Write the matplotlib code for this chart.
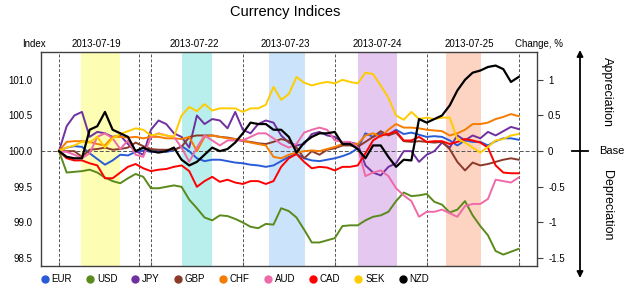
import matplotlib
matplotlib.use("Agg")
import matplotlib.pyplot as plt
import matplotlib.transforms as mtransforms
from matplotlib.lines import Line2D
import numpy as np

plt.rcParams['font.family'] = ['Liberation Sans', 'DejaVu Sans']

# hours since 2013-07-19 00:00 (weekend squeezed out), every 2 hours
hours = np.arange(0, 121, 2)

# percent change vs base
eur = [0, 0.05, 0.07, 0.06, -0.03, -0.11, -0.19, -0.13, -0.05, -0.06, -0.01, 0.01, -0.01, 0.01, -0.01, 0.01,
       0.07, 0.0, -0.1, -0.14, -0.12, -0.12, -0.14, -0.16, -0.17, -0.19, -0.2, -0.22, -0.2, -0.14, -0.08, -0.04,
       -0.1, -0.13, -0.14, -0.12, -0.1, -0.07, -0.03, 0.04, 0.25, 0.2, 0.25, 0.23, 0.3, 0.24, 0.26, 0.23,
       0.2, 0.21, 0.2, 0.15, 0.08, 0.15, 0.13, 0.13, 0.08, 0.14, 0.18, 0.18, 0.16]
usd = [0, -0.3, -0.29, -0.28, -0.26, -0.3, -0.37, -0.42, -0.45, -0.38, -0.32, -0.36, -0.52, -0.52, -0.5, -0.48,
       -0.5, -0.68, -0.8, -0.93, -0.97, -0.9, -0.91, -0.95, -1.0, -1.06, -1.08, -1.02, -1.03, -0.8, -0.84, -0.93,
       -1.1, -1.28, -1.28, -1.25, -1.22, -1.05, -1.04, -1.04, -0.97, -0.92, -0.9, -0.85, -0.7, -0.58, -0.63, -0.62,
       -0.6, -0.71, -0.75, -0.86, -0.82, -0.7, -0.9, -1.05, -1.18, -1.4, -1.45, -1.41, -1.37]
jpy = [0, 0.35, 0.5, 0.55, 0.2, 0.27, 0.25, 0.2, 0.22, 0.1, 0.0, -0.05, 0.3, 0.43, 0.38, 0.25,
       0.2, 0.05, 0.5, 0.38, 0.45, 0.43, 0.32, 0.55, 0.3, 0.25, 0.38, 0.43, 0.4, 0.22, 0.12, 0.08,
       0.1, 0.24, 0.27, 0.22, 0.2, 0.12, 0.12, 0.1, -0.2, -0.3, -0.34, -0.22, -0.17, 0.0, 0.0, -0.15,
       -0.05, 0.0, 0.12, 0.05, 0.22, 0.15, 0.22, 0.18, 0.27, 0.22, 0.28, 0.34, 0.31]
gbp = [0, 0.0, 0.0, -0.08, 0.02, 0.03, 0.05, 0.02, 0.03, 0.05, 0.12, 0.07, 0.03, 0.02, 0.02, 0.02,
       0.06, 0.2, 0.22, 0.22, 0.22, 0.2, 0.19, 0.17, 0.14, 0.13, 0.11, 0.1, 0.13, 0.17, 0.14, 0.05,
       -0.1, 0.0, -0.05, 0.02, 0.04, 0.08, 0.08, 0.06, 0.13, 0.2, 0.28, 0.22, 0.26, 0.14, 0.13, 0.14,
       0.13, 0.12, 0.13, 0.03, -0.15, -0.27, -0.16, -0.2, -0.18, -0.15, -0.12, -0.1, -0.12]
chf = [0, 0.13, 0.14, 0.14, 0.13, 0.1, 0.08, 0.2, 0.2, 0.19, 0.2, 0.18, 0.2, 0.2, 0.18, 0.18,
       0.17, 0.2, 0.0, 0.2, 0.22, 0.2, 0.18, 0.17, 0.15, 0.12, 0.1, 0.08, -0.08, -0.1, -0.05, -0.02,
       0.0, 0.01, 0.0, 0.03, 0.06, 0.1, 0.1, 0.1, 0.22, 0.25, 0.2, 0.3, 0.38, 0.33, 0.33, 0.32,
       0.3, 0.29, 0.28, 0.22, 0.25, 0.3, 0.38, 0.38, 0.4, 0.45, 0.48, 0.52, 0.49]
aud = [0, -0.01, -0.05, -0.1, -0.03, 0.2, 0.25, 0.18, 0.03, 0.15, -0.05, -0.08, 0.2, 0.25, 0.22, 0.2,
       0.05, -0.15, 0.05, 0.22, 0.15, 0.08, 0.15, 0.15, 0.15, 0.2, 0.25, 0.25, 0.18, 0.1, 0.05, 0.1,
       0.26, 0.3, 0.33, 0.3, 0.15, 0.13, 0.13, 0.05, -0.35, -0.3, -0.27, -0.35, -0.52, -0.62, -0.7, -0.92,
       -0.85, -0.85, -0.82, -0.87, -0.92, -0.77, -0.74, -0.74, -0.67, -0.4, -0.42, -0.44, -0.37]
cad = [0, -0.1, -0.13, -0.13, -0.17, -0.2, -0.38, -0.38, -0.3, -0.22, -0.18, -0.24, -0.28, -0.26, -0.25, -0.22,
       -0.2, -0.28, -0.5, -0.42, -0.36, -0.43, -0.4, -0.44, -0.46, -0.42, -0.42, -0.46, -0.42, -0.22, -0.1, -0.04,
       -0.15, -0.24, -0.22, -0.23, -0.27, -0.22, -0.22, -0.2, -0.03, 0.15, 0.22, 0.24, 0.28, 0.15, 0.15, 0.2,
       0.13, 0.14, 0.14, 0.1, 0.13, 0.17, 0.15, 0.12, 0.05, -0.2, -0.3, -0.31, -0.31]
sek = [0, 0.05, 0.08, 0.13, 0.12, 0.2, 0.05, 0.18, 0.24, 0.28, 0.32, 0.3, 0.22, 0.24, 0.22, 0.2,
       0.5, 0.62, 0.56, 0.66, 0.57, 0.6, 0.6, 0.6, 0.55, 0.6, 0.6, 0.65, 0.9, 0.72, 0.8, 1.04,
       0.96, 0.92, 0.95, 0.97, 0.95, 1.0, 0.97, 0.95, 1.1, 1.08, 0.92, 0.75, 0.5, 0.44, 0.55, 0.45,
       0.47, 0.45, 0.47, 0.47, 0.17, 0.12, 0.05, -0.02, 0.06, 0.15, 0.17, 0.22, 0.24]
nzd = [0, -0.08, -0.1, -0.1, 0.3, 0.35, 0.55, 0.3, 0.25, 0.2, 0.0, 0.05, 0.0, -0.02, 0.0, 0.05,
       -0.12, -0.2, -0.15, -0.05, 0.05, 0.0, 0.03, 0.12, 0.25, 0.4, 0.38, 0.38, 0.3, 0.3, 0.2, -0.02,
       0.12, 0.2, 0.25, 0.25, 0.27, 0.1, 0.1, 0.03, -0.1, 0.08, 0.08, -0.08, -0.22, -0.12, -0.13, 0.45,
       0.4, 0.45, 0.5, 0.64, 0.85, 1.0, 1.1, 1.13, 1.18, 1.2, 1.15, 0.97, 1.04]

names = ['EUR', 'USD', 'JPY', 'GBP', 'CHF', 'AUD', 'CAD', 'SEK', 'NZD']
series = [eur, usd, jpy, gbp, chf, aud, cad, sek, nzd]
colors = ['#2a5bd7', '#5b8a1c', '#7030a0', '#8b3a2a', '#f57c00', '#ef6aa8', '#ff0000', '#ffcc00', '#000000']

day_lines = [0, 21, 24, 48, 72, 96, 120]
bands = [(5.7, 15.9), (32.1, 40.0), (54.8, 64.2), (78.1, 88.3), (101.0, 110.2)]
band_colors = ['#fdfdb4', '#b8efed', '#cbe4fb', '#e4c8ef', '#fdd3c1']
date_labels = ['2013-07-19', '2013-07-22', '2013-07-23', '2013-07-24', '2013-07-25']
date_pos = [9.7, 35.2, 59.0, 83.0, 107.2]

fig = plt.figure(figsize=(6.25, 2.92), dpi=100)
ax = fig.add_axes([41 / 625, 1 - 266 / 292, 496 / 625, 214 / 292])

for (a, b), c in zip(bands, band_colors):
    ax.axvspan(a, b, color=c, lw=0, zorder=0)
for d in day_lines:
    ax.axvline(d, color='#555555', ls=(0, (3, 2)), lw=0.7, zorder=1)
ax.axhline(0, color='#555555', ls=(0, (4, 2)), lw=0.7, zorder=1)

for name, s, c in zip(names, series, colors):
    lw = 1.6 if name == 'NZD' else 1.4
    ax.plot(hours, s, color=c, lw=lw, label=name, zorder=3)

ax.set_xlim(-4.7, 124.8)
ax.set_ylim(-1.61, 1.39)
yt = [-1.5, -1.0, -0.5, 0, 0.5, 1.0]
ax.set_yticks(yt)
ax.set_yticklabels([f'{100 + v:.1f}' for v in yt], fontsize=7)
ax.set_xticks(day_lines)
ax.set_xticklabels([])
ax.tick_params(axis='x', direction='in', length=3, color='#555555')
ax.tick_params(axis='y', length=0, pad=6)
for sp in ax.spines.values():
    sp.set_color('#404040')
    sp.set_linewidth(1.0)

ax2 = ax.twinx()
ax2.set_ylim(ax.get_ylim())
ax2.set_yticks(yt)
ax2.set_yticklabels(['-1.5', '-1', '-0.5', '0', '0.5', '1'], fontsize=7)
ax2.tick_params(axis='y', length=4, color='#404040', pad=4)
for sp in ax2.spines.values():
    sp.set_visible(False)

top_trans = mtransforms.blended_transform_factory(ax.transData, fig.transFigure)
for lab, p in zip(date_labels, date_pos):
    ax.text(p, 1 - 44 / 292, lab, transform=top_trans, ha='center', va='center', fontsize=7)
fig.text(34 / 625, 1 - 44 / 292, 'Index', ha='center', va='center', fontsize=7)
fig.text(539 / 625, 1 - 44 / 292, 'Change, %', ha='center', va='center', fontsize=7)
fig.text(0.456, 1 - 12 / 292, 'Currency Indices', ha='center', va='center', fontsize=10.5)

# appreciation / depreciation arrow on the right
ax.annotate('', xy=(580 / 625, 1 - 50 / 292), xytext=(580 / 625, 1 - 278 / 292),
            xycoords='figure fraction', textcoords='figure fraction',
            arrowprops=dict(arrowstyle='<|-|>', color='black', lw=1.3, mutation_scale=9,
                            shrinkA=0, shrinkB=0))
fig.add_artist(Line2D([572 / 625, 588 / 625], [1 - 151 / 292] * 2, color='black', lw=1.3))
fig.text(607 / 625, 1 - 92 / 292, 'Appreciation', rotation=270, ha='center', va='center', fontsize=9)
fig.text(612 / 625, 1 - 151 / 292, 'Base', ha='center', va='center', fontsize=8)
fig.text(607 / 625, 1 - 205 / 292, 'Depreciation', rotation=270, ha='center', va='center', fontsize=9)

handles = [Line2D([], [], marker='o', ls='', color=c, markersize=5) for c in colors]
fig.legend(handles, names, loc='center left', bbox_to_anchor=(39 / 625, 1 - 279 / 292), ncol=9,
           frameon=False, fontsize=7, handletextpad=0.1, columnspacing=1.25, handlelength=1.2,
           borderpad=0, borderaxespad=0)

fig.savefig('out.png', dpi=100)
